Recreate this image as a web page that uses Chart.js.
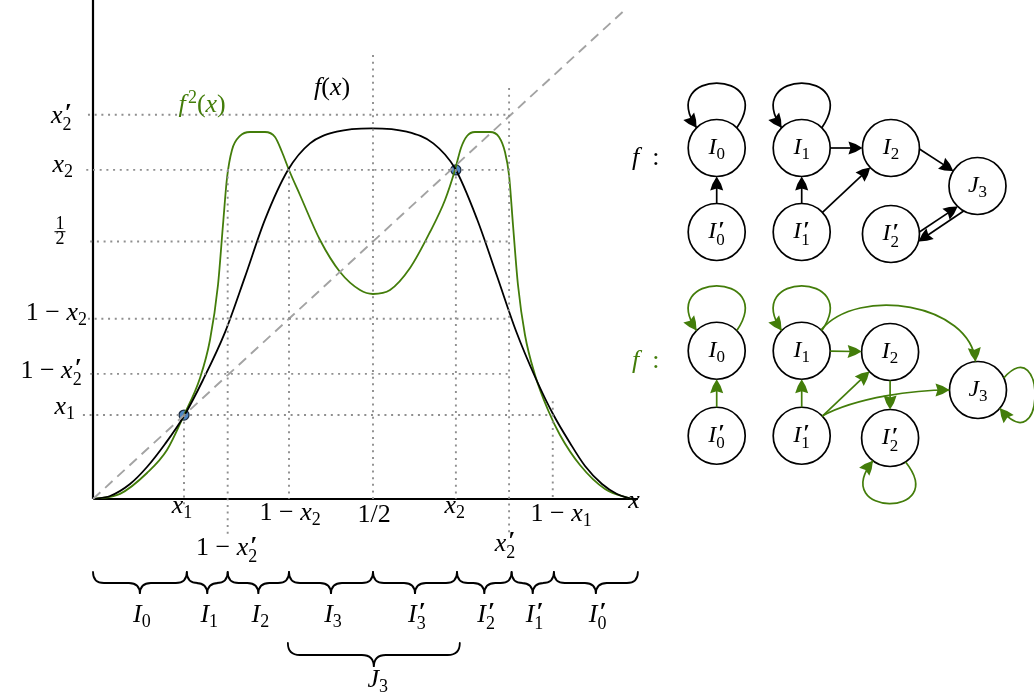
<!DOCTYPE html>
<html lang="en">
<head>
<meta charset="UTF-8">
<title>f and f² on the intervals I0 ... J3</title>
<style>
body { margin: 0; background: #fff; }
#wrap { position: relative; width: 1034px; height: 696px; overflow: hidden; }
#plot, #graph { position: absolute; top: 0; }
#plot { left: 0; }
#graph { left: 620px; }
</style>
</head>
<body>
<div id="wrap">
  <canvas id="plot" width="1034" height="696"></canvas>
  <canvas id="graph" width="414" height="696"></canvas>
</div>
<script src="https://cdn.jsdelivr.net/npm/chart.js"></script>
<script>
// ---- values (x and y in axis units) ----
const fX  = [0, 0.0304, 0.0661, 0.0964, 0.1286, 0.1625, 0.1964, 0.2357, 0.2714, 0.3071, 0.3482, 0.3875, 0.4352,
             0.4977, 0.5602, 0.6077, 0.6464, 0.6857, 0.7214, 0.7554, 0.7911, 0.8214, 0.8518, 0.8786, 0.9089,
             0.9357, 0.9625];
const fY  = [0, 0.0058, 0.0291, 0.0621, 0.1068, 0.1612, 0.2311, 0.3235, 0.4313, 0.5425, 0.6388, 0.6906, 0.7132,
             0.7198, 0.7132, 0.6906, 0.6421, 0.5437, 0.4330, 0.3262, 0.2330, 0.1650, 0.1087, 0.0641, 0.0291,
             0.0097, 0];
const f2X = [0, 0.0482, 0.0964, 0.1321, 0.1625, 0.1911, 0.2089, 0.2232, 0.2321, 0.2393, 0.2482, 0.2625, 0.2804, 0.3071,
             0.3250, 0.3375, 0.3500, 0.3696, 0.4054, 0.4411, 0.4768, 0.5, 0.5304, 0.5661, 0.6018, 0.6286, 0.6464,
             0.6571, 0.6679, 0.6821, 0.7089, 0.7250, 0.7357, 0.7429, 0.7500, 0.7589, 0.7714, 0.7893, 0.8125,
             0.8339, 0.8696, 0.9143, 0.9625];
const f2Y = [0, 0.0100, 0.0505, 0.0951, 0.1631, 0.2350, 0.3087, 0.4155, 0.5320, 0.6233, 0.6777, 0.7049, 0.7126, 0.7126,
             0.7029, 0.6738, 0.6388, 0.5903, 0.5029, 0.4408, 0.4058, 0.3981, 0.4058, 0.4485, 0.5184, 0.5806, 0.6388,
             0.6816, 0.7049, 0.7126, 0.7126, 0.7029, 0.6738, 0.6291, 0.5320, 0.4155, 0.3184, 0.2408, 0.1728,
             0.1243, 0.0660, 0.0194, 0];

// special points on the diagonal
const fixedX = [0.1625, 0.648];
const fixedY = [0.163, 0.639];
const diagEnd = 0.953;
const axisEndX = 0.973, axisTopY = 0.969;

// dotted guide lines: level, from, to
const hGuideY    = [0.746, 0.639, 0.5, 0.350, 0.243, 0.163];
const hGuideFrom = [-0.009, -0.012, -0.005, -0.009, -0.005, -0.018];
const hGuideTo   = [0.743, 0.743, 0.743, 0.743, 0.743, 0.821];
const vGuideX    = [0.1625, 0.2405, 0.350, 0.5, 0.648, 0.743, 0.821];
const vGuideTop  = [0.163, 0.639, 0.639, 0.862, 0.639, 0.798, 0.190];
const vGuideBot  = [-0.01, -0.07, 0, 0, 0, -0.07, 0];

// tick labels under the x axis (centre x, baseline y)
const xTickLabels = ["x_1", "1 − x_2", "1/2", "x_2", "1 − x_1", "x", "1 − x'_2", "x'_2"];
const xTickAt     = [0.159, 0.352, 0.502, 0.646, 0.836, 0.966, 0.239, 0.736];
const xTickBase   = [-0.027, -0.041, -0.045, -0.027, -0.043, -0.0175, -0.109, -0.101];
// tick labels left of the y axis (right edge x, baseline y); "frac" is the small 1/2
const yTickLabels = ["x'_2", "x_2", "frac", "1 − x_2", "1 − x'_2", "x_1"];
const yTickRight  = [-0.0375, -0.0357, -0.059, -0.0107, -0.0196, -0.032];
const yTickBase   = [0.730, 0.635, 0.520, 0.3476, 0.235, 0.165];

// intervals under the axis
const braceCuts   = [0, 0.1675, 0.2405, 0.350, 0.5, 0.650, 0.7475, 0.823, 0.973];
const braceNames  = ["I_0", "I_1", "I_2", "I_3", "I'_3", "I'_2", "I'_1", "I'_0"];
const bigBrace    = [0.348, 0.655];

// transition graphs (node units: 1 = one column)
const nodeNames = ["I_0", "I'_0", "I_1", "I'_1", "I_2", "J_3", "I'_2"];
const topNodeX  = [0, 0, 1, 1, 2.05, 3.068, 2.05];
const topNodeY  = [0, -0.988, 0, -0.988, 0, -0.447, -1.012];
const botNodeX  = [0, 0, 1, 1, 2.04, 3.074, 2.04];
const botNodeY  = [-2.385, -3.385, -2.385, -3.385, -2.40, -2.847, -3.412];
// edges: from, to, [start angle, tangent, reach, end angle, tangent, reach]
const topEdges = [
  ["I_0", "I_0", [45, 56, 72, 135, 124, 72]],
  ["I_1", "I_1", [45, 56, 72, 135, 124, 72]],
  ["I'_0", "I_0"], ["I'_1", "I_1"], ["I_1", "I_2"], ["I'_1", "I_2"],
  ["I_2", "J_3", [-2, null, 0, 148]],
  ["I'_2", "J_3", [4, null, 0, 226]],
  ["J_3", "I'_2", [241, null, 0, -15]]
];
const botEdges = [
  ["I_0", "I_0", [45, 56, 72, 135, 124, 72]],
  ["I_1", "I_1", [45, 56, 72, 135, 124, 72]],
  ["I'_0", "I_0"], ["I'_1", "I_1"], ["I_1", "I_2"], ["I'_1", "I_2"],
  ["I_1", "J_3", [47, 50, 58, 95, 95, 58]],
  ["I'_1", "J_3", [44, 28, 40, 180, 180, 35]],
  ["I_2", "I'_2"],
  ["I'_2", "I'_2", [-57, -51.6, 72, -127, -128.4, 72]],
  ["J_3", "J_3", [25, 48.7, 64, -40, -50.8, 73]]
];

const SERIF = "'Liberation Serif', 'Times New Roman', serif";
const GREEN = '#437d0a';

function pts(xs, ys) { return xs.map((v, i) => ({ x: v, y: ys[i] })); }

function parseMath(s) {
  const out = [];
  for (let i = 0; i < s.length; i++) {
    const c = s[i];
    const last = out[out.length - 1];
    if (c === '_') {
      const v = s[++i];
      if (last && last.script && last.sub === undefined) last.sub = v;
      else out.push({ script: true, sub: v });
    } else if (c === '^' || c === "'") {
      const v = c === '^' ? s[++i] : '′';
      out.push({ script: true, sup: v, prime: c === "'" });
    } else if (/[A-Za-z]/.test(c)) out.push({ t: c, it: true });
    else out.push({ t: c });
  }
  return out;
}

function drawMath(ctx, s, x, y, size, color, align) {
  const small = Math.round(size * 0.7);
  const pieces = [];
  let w = 0, prevItalic = false;
  for (const tk of parseMath(s)) {
    if (tk.t !== undefined) {
      const font = (tk.it ? 'italic ' : '') + size + 'px ' + SERIF;
      ctx.font = font;
      pieces.push({ text: tk.t, x: w, dy: 0, font });
      w += ctx.measureText(tk.t).width;
      prevItalic = tk.it;
    } else {
      let ww = 0;
      const gap = tk.sup !== undefined && prevItalic ? size * 0.08 : 0;
      if (tk.sup !== undefined) {
        const font = (tk.prime ? 'bold ' + size : small) + 'px ' + SERIF;
        ctx.font = font;
        pieces.push({ text: tk.sup, x: w + gap, dy: tk.prime ? -size * 0.06 : -size * 0.36, font });
        ww = ctx.measureText(tk.sup).width + gap;
      }
      if (tk.sub !== undefined) {
        const font = small + 'px ' + SERIF;
        ctx.font = font;
        pieces.push({ text: tk.sub, x: w, dy: size * (tk.sup !== undefined ? 0.28 : 0.2), font });
        ww = Math.max(ww, ctx.measureText(tk.sub).width);
      }
      w += ww;
      prevItalic = false;
    }
  }
  const x0 = align === 'right' ? x - w : align === 'left' ? x : x - w / 2;
  ctx.fillStyle = color;
  ctx.textAlign = 'left';
  ctx.textBaseline = 'alphabetic';
  for (const p of pieces) { ctx.font = p.font; ctx.fillText(p.text, x0 + p.x, y + p.dy); }
}

function drawFrac(ctx, cx, cy, size) {
  ctx.font = size + 'px ' + SERIF;
  ctx.fillStyle = '#000';
  ctx.textAlign = 'center';
  ctx.textBaseline = 'alphabetic';
  ctx.fillText('1', cx, cy - 2);
  ctx.fillText('2', cx, cy + size * 0.7);
  ctx.fillRect(cx - 5.5, cy, 11, 1);
}

function brace(ctx, xa, xb, yt, amp) {
  const h = amp / 2, xm = (xa + xb) / 2;
  ctx.beginPath();
  ctx.moveTo(xa, yt);
  ctx.quadraticCurveTo(xa, yt + h, xa + h, yt + h);
  ctx.lineTo(xm - h, yt + h);
  ctx.quadraticCurveTo(xm, yt + h, xm, yt + amp);
  ctx.quadraticCurveTo(xm, yt + h, xm + h, yt + h);
  ctx.lineTo(xb - h, yt + h);
  ctx.quadraticCurveTo(xb, yt + h, xb, yt);
  ctx.stroke();
}

function seg(x0, y0, x1, y1, color, dash, width) {
  return { data: [{ x: x0, y: y0 }, { x: x1, y: y1 }], showLine: true, borderColor: color,
           borderWidth: width, borderDash: dash, pointRadius: 0, fill: false };
}

// ---- left chart: the two maps ----
const plotSets = [];
hGuideY.forEach((v, i) => plotSets.push(seg(hGuideFrom[i], v, hGuideTo[i], v, '#8f8f8f', [2, 4.7], 1.9)));
vGuideX.forEach((v, i) => plotSets.push(seg(v, vGuideTop[i], v, vGuideBot[i], '#8f8f8f', [2, 4.7], 1.9)));
plotSets.push(seg(0, 0, diagEnd, diagEnd, '#a3a3a3', [10, 6.5], 1.9));
plotSets.push({ data: pts(fX, fY), showLine: true, borderColor: '#000', borderWidth: 1.8, pointRadius: 0,
                cubicInterpolationMode: 'monotone' });
plotSets.push({ data: pts(f2X, f2Y), showLine: true, borderColor: GREEN, borderWidth: 1.8, pointRadius: 0,
                cubicInterpolationMode: 'monotone' });
plotSets.push(seg(0, 0, axisEndX, 0, '#000', [], 2.2));
plotSets.push(seg(0, 0, 0, axisTopY, '#000', [], 2.2));
plotSets.push({ data: pts(fixedX, fixedY), showLine: false, pointRadius: 5, pointBackgroundColor: '#4f86c4',
                pointBorderColor: '#1c2c40', pointBorderWidth: 1.3 });

const plotDecor = {
  id: 'plotDecor',
  afterDatasetsDraw(chart) {
    const { ctx, scales: { x, y } } = chart;
    ctx.save();
    ctx.strokeStyle = '#000';
    ctx.lineWidth = 1.8;
    ctx.lineCap = 'round';
    const top = y.getPixelForValue(-0.1417);
    for (let i = 0; i < braceNames.length; i++) {
      const a = x.getPixelForValue(braceCuts[i]), b = x.getPixelForValue(braceCuts[i + 1]);
      brace(ctx, a, b, top, 22);
      drawMath(ctx, braceNames[i], (a + b) / 2 + 2, y.getPixelForValue(-0.2388), 26, '#000', 'center');
    }
    const ja = x.getPixelForValue(bigBrace[0]), jb = x.getPixelForValue(bigBrace[1]);
    brace(ctx, ja, jb, y.getPixelForValue(-0.2796), 24);
    drawMath(ctx, 'J_3', (ja + jb) / 2 + 4, y.getPixelForValue(-0.365), 26, '#000', 'center');

    xTickLabels.forEach((s, i) => drawMath(ctx, s, x.getPixelForValue(xTickAt[i]), y.getPixelForValue(xTickBase[i]), 26, '#000', 'center'));
    yTickLabels.forEach((s, i) => {
      if (s === 'frac') drawFrac(ctx, x.getPixelForValue(yTickRight[i]), y.getPixelForValue(yTickBase[i]), 18);
      else drawMath(ctx, s, x.getPixelForValue(yTickRight[i]), y.getPixelForValue(yTickBase[i]), 26, '#000', 'right');
    });
    drawMath(ctx, 'f(x)', x.getPixelForValue(0.427), y.getPixelForValue(0.784), 26, '#000', 'center');
    drawMath(ctx, 'f^2(x)', x.getPixelForValue(0.195), y.getPixelForValue(0.751), 26, GREEN, 'center');
    ctx.restore();
  }
};

new Chart(document.getElementById('plot'), {
  type: 'scatter',
  data: { datasets: plotSets },
  options: {
    responsive: false, animation: false, events: [],
    layout: { padding: 0, autoPadding: false },
    plugins: { legend: { display: false }, tooltip: { enabled: false } },
    scales: {
      x: { type: 'linear', display: false, min: -93 / 560, max: 941 / 560 },
      y: { type: 'linear', display: false, min: -197 / 515, max: 499 / 515 }
    }
  },
  plugins: [plotDecor]
});

// ---- right chart: transition graphs ----
const R = 28.5;
function rad(d) { return d * Math.PI / 180; }
function onCircle(c, deg, r) { return { x: c.x + r * Math.cos(rad(deg)), y: c.y - r * Math.sin(rad(deg)) }; }
function arrowHead(ctx, tip, ang) {
  const len = 14, hw = 6.5;
  ctx.save();
  ctx.translate(tip.x, tip.y);
  ctx.rotate(ang);
  ctx.beginPath();
  ctx.moveTo(0, 0);
  ctx.quadraticCurveTo(-len * 0.5, -hw * 0.75, -len, -hw);
  ctx.lineTo(-len * 0.85, 0);
  ctx.lineTo(-len, hw);
  ctx.quadraticCurveTo(-len * 0.5, hw * 0.75, 0, 0);
  ctx.fill();
  ctx.restore();
}

function drawEdges(ctx, centers, edges, color) {
  ctx.strokeStyle = color;
  ctx.fillStyle = color;
  ctx.lineWidth = 1.7;
  for (const [a, b, opt] of edges) {
    const ca = centers[a], cb = centers[b];
    let p0, p3, dir;
    if (opt && opt[2]) {
      p0 = onCircle(ca, opt[0], R);
      p3 = onCircle(cb, opt[3], R);
      const p1 = onCircle(p0, opt[1], opt[2]);
      const p2 = onCircle(p3, opt[4], opt[5]);
      ctx.beginPath();
      ctx.moveTo(p0.x, p0.y);
      ctx.bezierCurveTo(p1.x, p1.y, p2.x, p2.y, p3.x, p3.y);
      ctx.stroke();
      dir = Math.atan2(p3.y - p2.y, p3.x - p2.x);
    } else {
      const ang = Math.atan2(-(cb.y - ca.y), cb.x - ca.x) * 180 / Math.PI;
      p0 = onCircle(ca, opt ? opt[0] : ang, R);
      p3 = onCircle(cb, opt ? opt[3] : ang + 180, R);
      dir = Math.atan2(p3.y - p0.y, p3.x - p0.x);
      ctx.beginPath();
      ctx.moveTo(p0.x, p0.y);
      ctx.lineTo(p3.x - 7 * Math.cos(dir), p3.y - 7 * Math.sin(dir));
      ctx.stroke();
    }
    arrowHead(ctx, p3, dir);
  }
}

const graphDecor = {
  id: 'graphDecor',
  afterDatasetsDraw(chart) {
    const { ctx, scales: { x, y } } = chart;
    ctx.save();
    const groups = [[topNodeX, topNodeY, topEdges, '#000'], [botNodeX, botNodeY, botEdges, GREEN]];
    for (const [nx, ny, edges, color] of groups) {
      const centers = {};
      nodeNames.forEach((n, i) => { centers[n] = { x: x.getPixelForValue(nx[i]), y: y.getPixelForValue(ny[i]) }; });
      drawEdges(ctx, centers, edges, color);
      nodeNames.forEach(n => drawMath(ctx, n, centers[n].x, centers[n].y + 6, 24, '#000', 'center'));
    }
    drawMath(ctx, 'f  :', x.getPixelForValue(-0.996), y.getPixelForValue(-0.20), 26, '#000', 'left');
    drawMath(ctx, 'f  :', x.getPixelForValue(-0.996), y.getPixelForValue(-2.59), 26, GREEN, 'left');
    ctx.restore();
  }
};

const nodeStyle = { showLine: false, pointRadius: R, pointHoverRadius: R, pointBackgroundColor: '#fff',
                    pointBorderColor: '#000', pointBorderWidth: 1.7 };
new Chart(document.getElementById('graph'), {
  type: 'scatter',
  data: { datasets: [
    Object.assign({ data: pts(topNodeX, topNodeY) }, nodeStyle),
    Object.assign({ data: pts(botNodeX, botNodeY) }, nodeStyle)
  ] },
  options: {
    responsive: false, animation: false, events: [],
    layout: { padding: 0, autoPadding: false },
    plugins: { legend: { display: false }, tooltip: { enabled: false } },
    scales: {
      x: { type: 'linear', display: false, min: -96.7 / 85, max: 317.3 / 85 },
      y: { type: 'linear', display: false, min: -548 / 85, max: 148 / 85 }
    }
  },
  plugins: [graphDecor]
});
</script>
</body>
</html>
